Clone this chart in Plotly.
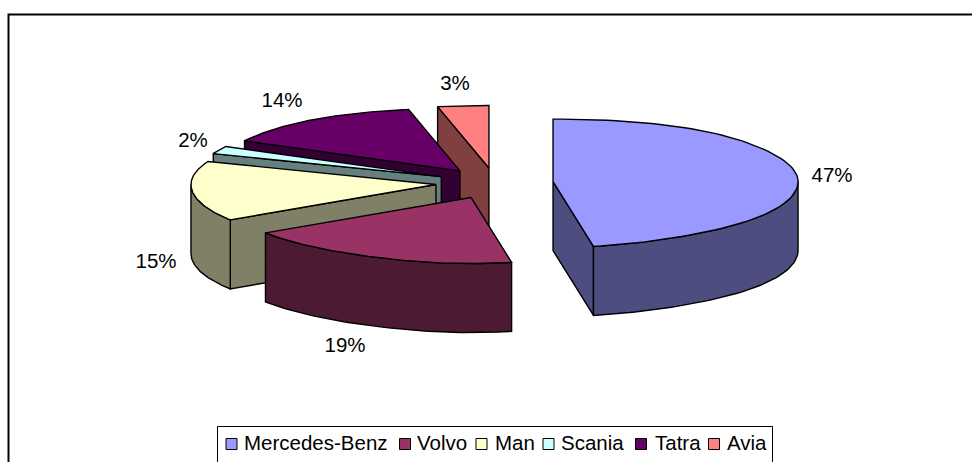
import numpy as np
import plotly.graph_objects as go

categories = ["Mercedes-Benz", "Volvo", "Man", "Scania", "Tatra", "Avia"]
shares = [47, 19, 15, 2, 14, 3]
top_colors = ["#9999FF", "#993366", "#FFFFCC", "#CCFFFF", "#660066", "#FF8080"]
side_colors = ["#4D4D80", "#4D1A33", "#808066", "#668080", "#330033", "#804040"]

# layout of the projected pie, in page pixels
CX, CY = 494.5, 183.0
RX, RY_FAR, RY_NEAR = 245.0, 62.5, 66.0
PERSPECTIVE = 0.13
EXPLODE = 0.24
DEPTH = 69.0
label_x = [832, 345, 156, 193, 282, 455]
label_y = [177, 347, 263, 142, 102, 85]
legend_box_x = [217.5, 772.5]
legend_box_top = 426.5
legend_y = 444
legend_square_x = [231.5, 405, 481.5, 548.5, 641, 714]
legend_text_x = [244, 417, 495, 561, 655, 727]
draw_order = [5, 4, 3, 2, 1, 0]

total = sum(shares)
edges = np.cumsum([0] + shares) / total * 2 * np.pi

fig = go.Figure()


def add_poly(xs, ys, color):
    fig.add_trace(go.Scatter(
        x=list(xs) + [xs[0]], y=list(ys) + [ys[0]], mode="lines", fill="toself",
        fillcolor=color, line=dict(color="black", width=1.4),
        hoverinfo="skip", showlegend=False))


for i in draw_order:
    a0, a1 = edges[i], edges[i + 1]
    mid = (a0 + a1) / 2
    cx = CX + EXPLODE * RX * np.sin(mid)
    cy = CY - EXPLODE * (RY_FAR if np.cos(mid) > 0 else RY_NEAR) * np.cos(mid)
    px = lambda t: cx + RX * np.sin(t) * (1 + PERSPECTIVE * np.cos(t) ** 5)
    py = lambda t: cy - np.where(np.cos(t) > 0, RY_FAR, RY_NEAR) * np.cos(t)

    # radial walls that face the viewer
    if np.sin(a0) < -1e-6:
        add_poly([cx, px(a0), px(a0), cx], [cy, py(a0), py(a0) + DEPTH, cy + DEPTH], side_colors[i])
    if np.sin(a1) > 1e-6:
        add_poly([cx, px(a1), px(a1), cx], [cy, py(a1), py(a1) + DEPTH, cy + DEPTH], side_colors[i])

    # outer wall: front half of the rim only
    lo, hi = max(a0, np.pi / 2), min(a1, 3 * np.pi / 2)
    if hi > lo:
        t = np.linspace(lo, hi, 60)
        add_poly(np.r_[px(t), px(t[::-1])], np.r_[py(t), py(t[::-1]) + DEPTH], side_colors[i])

    # top face
    t = np.linspace(a0, a1, 90)
    add_poly(np.r_[cx, px(t)], np.r_[cy, py(t)], top_colors[i])

font = dict(family="Liberation Sans, Arial, sans-serif", size=20.5, color="black")

# percentage labels
fig.add_trace(go.Scatter(
    x=label_x, y=label_y, mode="text",
    text=[f"{round(v / total * 100)}%" for v in shares],
    textposition="middle center", textfont=font,
    hoverinfo="skip", showlegend=False))

# legend keys and names
fig.add_trace(go.Scatter(
    x=legend_square_x, y=[legend_y] * len(categories), mode="markers",
    marker=dict(symbol="square", size=11, color=top_colors, line=dict(color="black", width=1)),
    hoverinfo="skip", showlegend=False))
fig.add_trace(go.Scatter(
    x=legend_text_x, y=[legend_y + 1] * len(categories), mode="text",
    text=categories, textposition="middle right", textfont=font,
    hoverinfo="skip", showlegend=False))

fig.update_layout(
    width=972, height=462, margin=dict(l=0, r=0, t=0, b=0),
    paper_bgcolor="white", plot_bgcolor="white", showlegend=False,
    xaxis=dict(range=[0, 972], visible=False, fixedrange=True),
    yaxis=dict(range=[462, 0], visible=False, fixedrange=True),
    shapes=[
        dict(type="rect", xref="x", yref="y", x0=8.5, y0=14.5, x1=1000, y1=500,
             line=dict(color="black", width=2), layer="below"),
        dict(type="rect", xref="x", yref="y", x0=legend_box_x[0], y0=legend_box_top,
             x1=legend_box_x[1], y1=500, line=dict(color="black", width=1), layer="below"),
    ],
)

fig.write_html("out.html", config={"displayModeBar": False},
               post_script="document.body.style.margin='0';document.documentElement.style.overflow='hidden';")
